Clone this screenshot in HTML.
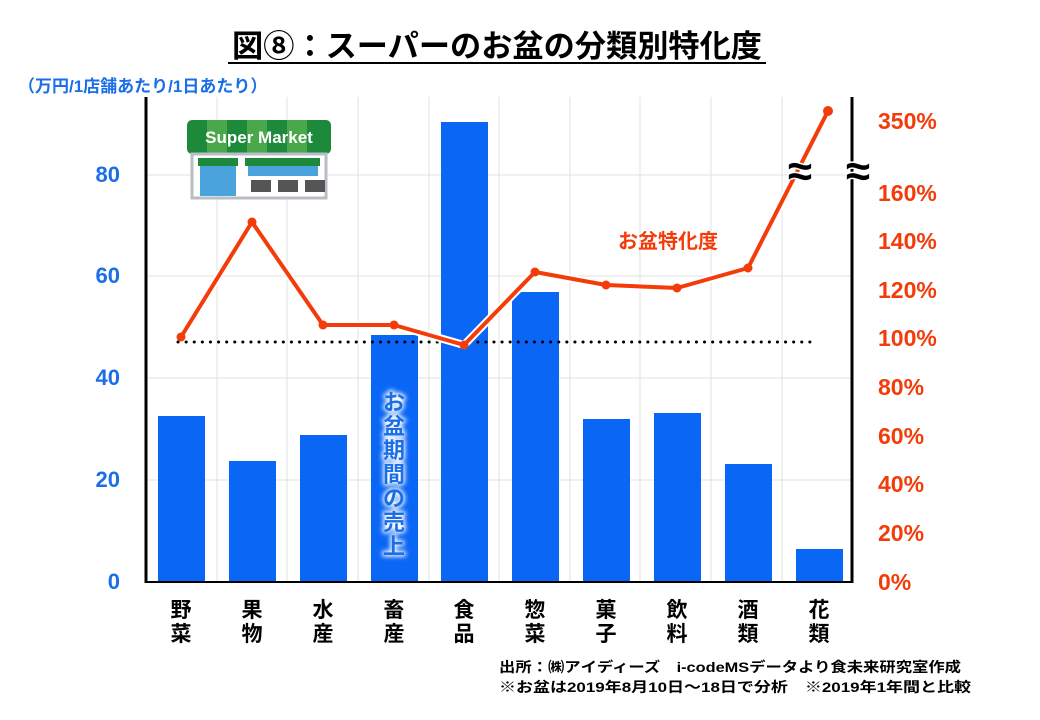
<!DOCTYPE html><html><head><meta charset="utf-8"><style>body{margin:0;background:#fff}svg{display:block}text{font-family:"Liberation Sans","Noto Sans CJK JP",sans-serif;font-weight:bold}</style></head><body>
<svg width="1040" height="720" viewBox="0 0 1040 720">
<defs><filter id="g" x="-50%" y="-50%" width="200%" height="200%"><feGaussianBlur stdDeviation="2.5"/></filter></defs>
<text x="497" y="57" font-size="31" text-anchor="middle" fill="#000" textLength="530" lengthAdjust="spacingAndGlyphs">図⑧：スーパーのお盆の分類別特化度</text>
<line x1="228" y1="63" x2="766" y2="63" stroke="#000" stroke-width="2"/>
<text x="18" y="92" font-size="17" fill="#1a6ee8">（万円/1店舗あたり/1日あたり）</text>
<g stroke="#e2e2e2" stroke-width="1">
<line x1="146" y1="480" x2="852" y2="480"/><line x1="146" y1="378" x2="852" y2="378"/><line x1="146" y1="276" x2="852" y2="276"/><line x1="146" y1="175" x2="852" y2="175"/>
<line x1="217" y1="97" x2="217" y2="582"/><line x1="287" y1="97" x2="287" y2="582"/><line x1="358" y1="97" x2="358" y2="582"/><line x1="429" y1="97" x2="429" y2="582"/><line x1="499" y1="97" x2="499" y2="582"/><line x1="570" y1="97" x2="570" y2="582"/><line x1="640" y1="97" x2="640" y2="582"/><line x1="711" y1="97" x2="711" y2="582"/><line x1="782" y1="97" x2="782" y2="582"/>
</g>
<g fill="#0a66f5">
<rect x="158" y="416" width="47" height="166"/><rect x="229" y="461" width="47" height="121"/><rect x="300" y="435" width="47" height="147"/><rect x="371" y="335" width="47" height="247"/><rect x="441" y="122" width="47" height="460"/><rect x="512" y="292" width="47" height="290"/><rect x="583" y="419" width="47" height="163"/><rect x="654" y="413" width="47" height="169"/><rect x="725" y="464" width="47" height="118"/><rect x="796" y="549" width="47" height="33"/>
</g>
<line x1="178" y1="342" x2="815" y2="342" stroke="#000" stroke-width="3" stroke-dasharray="0.1 8" stroke-linecap="round"/>
<g fill="#fff" stroke="#fff" stroke-width="3" font-size="22" text-anchor="middle" filter="url(#g)">
<text x="394" y="410">お</text><text x="394" y="434">盆</text><text x="394" y="458">期</text><text x="394" y="482">間</text><text x="394" y="506">の</text><text x="394" y="530">売</text><text x="394" y="554">上</text>
</g>
<g fill="#1a6ee8" font-size="22" text-anchor="middle">
<text x="394" y="410">お</text><text x="394" y="434">盆</text><text x="394" y="458">期</text><text x="394" y="482">間</text><text x="394" y="506">の</text><text x="394" y="530">売</text><text x="394" y="554">上</text>
</g>
<polyline points="181,337 252,222 323,325 394,325 464,345 535,272 606,285 677,288 748,268 828,111" fill="none" stroke="#fff" stroke-width="8"/>
<polyline points="181,337 252,222 323,325 394,325 464,345 535,272 606,285 677,288 748,268 828,111" fill="none" stroke="#f33c0a" stroke-width="4" stroke-linejoin="round"/>
<g fill="#f33c0a"><circle cx="181" cy="337" r="4.5"/><circle cx="252" cy="222" r="4.5"/><circle cx="323" cy="325" r="4.5"/><circle cx="394" cy="325" r="4.5"/><circle cx="464" cy="345" r="4.5"/><circle cx="535" cy="272" r="4.5"/><circle cx="606" cy="285" r="4.5"/><circle cx="677" cy="288" r="4.5"/><circle cx="748" cy="268" r="4.5"/><circle cx="828" cy="111" r="5"/></g>
<line x1="146" y1="97" x2="146" y2="583" stroke="#000" stroke-width="3"/>
<line x1="852" y1="97" x2="852" y2="583" stroke="#000" stroke-width="3"/>
<line x1="145" y1="582" x2="853" y2="582" stroke="#000" stroke-width="2"/>
<text x="800" y="186" font-size="44" text-anchor="middle" fill="#000" stroke="#fff" stroke-width="3" paint-order="stroke">≈</text>
<text x="858" y="186" font-size="44" text-anchor="middle" fill="#000" stroke="#fff" stroke-width="3" paint-order="stroke">≈</text>
<g fill="#1a6ee8" font-size="22" text-anchor="end">
<text x="120" y="589">0</text><text x="120" y="487">20</text><text x="120" y="385">40</text><text x="120" y="283">60</text><text x="120" y="182">80</text>
</g>
<g fill="#f33c0a" font-size="23">
<text x="878" y="590">0%</text><text x="878" y="541">20%</text><text x="878" y="492">40%</text><text x="878" y="444">60%</text><text x="878" y="395">80%</text><text x="878" y="346">100%</text><text x="878" y="298">120%</text><text x="878" y="249">140%</text><text x="878" y="201">160%</text><text x="878" y="129">350%</text>
<text x="618" y="248" font-size="20">お盆特化度</text>
</g>
<g font-size="21" text-anchor="middle" fill="#000">
<text x="181" y="617">野</text><text x="181" y="641">菜</text><text x="252" y="617">果</text><text x="252" y="641">物</text><text x="323" y="617">水</text><text x="323" y="641">産</text><text x="394" y="617">畜</text><text x="394" y="641">産</text><text x="464" y="617">食</text><text x="464" y="641">品</text><text x="535" y="617">惣</text><text x="535" y="641">菜</text><text x="606" y="617">菓</text><text x="606" y="641">子</text><text x="677" y="617">飲</text><text x="677" y="641">料</text><text x="748" y="617">酒</text><text x="748" y="641">類</text><text x="819" y="617">花</text><text x="819" y="641">類</text>
</g>
<text x="499" y="672" font-size="14" fill="#000" textLength="462" lengthAdjust="spacingAndGlyphs">出所：㈱アイディーズ　i-codeMSデータより食未来研究室作成</text>
<text x="499" y="692" font-size="14" fill="#000" textLength="472" lengthAdjust="spacingAndGlyphs">※お盆は2019年8月10日～18日で分析　※2019年1年間と比較</text>
<g>
<rect x="187" y="120" width="144" height="34" rx="5" fill="#1c8a3a"/>
<rect x="207" y="120" width="20" height="34" fill="#4aa84a"/><rect x="247" y="120" width="20" height="34" fill="#4aa84a"/><rect x="287" y="120" width="20" height="34" fill="#4aa84a"/>
<text x="259" y="143" font-size="17" text-anchor="middle" fill="#fff">Super Market</text>
<rect x="192" y="154" width="134" height="44" fill="#fff" stroke="#b8bec6" stroke-width="3"/>
<rect x="198" y="158" width="40" height="8" fill="#1c8a3a"/><rect x="245" y="158" width="75" height="8" fill="#1c8a3a"/>
<rect x="200" y="166" width="36" height="30" fill="#4ba3dd"/>
<rect x="248" y="166" width="70" height="10" fill="#4ba3dd"/>
<g fill="#555"><rect x="251" y="180" width="20" height="12"/><rect x="278" y="180" width="20" height="12"/><rect x="305" y="180" width="20" height="12"/></g>
</g>
</svg></body></html>
